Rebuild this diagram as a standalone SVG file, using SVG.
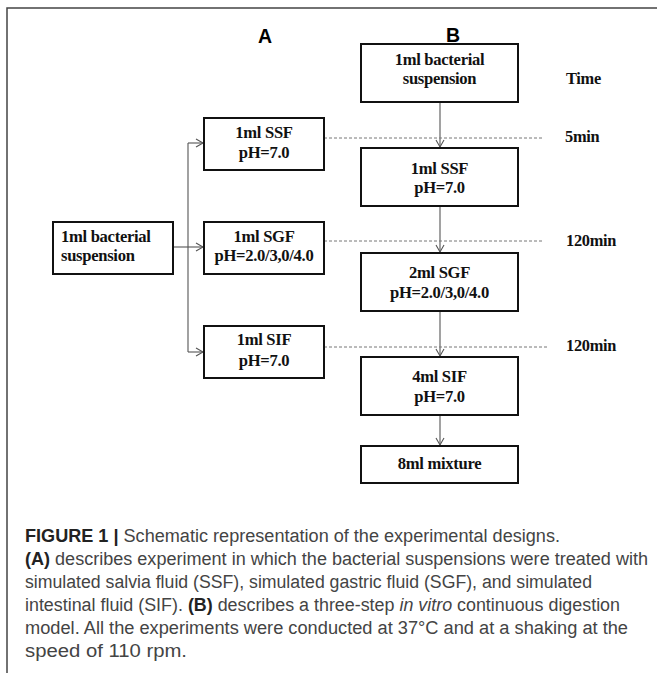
<svg xmlns="http://www.w3.org/2000/svg" width="657" height="681" viewBox="0 0 657 681">
<defs>
<style>
.box{fill:#fff;stroke:#111;stroke-width:2}
.bt{font-family:"Liberation Serif","Times New Roman",serif;font-weight:bold;font-size:16.6px;fill:#111;text-anchor:middle;letter-spacing:-0.3px}
.lbl{font-family:"Liberation Sans",Arial,sans-serif;font-weight:bold;font-size:19.5px;fill:#000;text-anchor:middle}
.tm{font-family:"Liberation Serif","Times New Roman",serif;font-weight:bold;font-size:16.4px;fill:#111;letter-spacing:-0.3px}
.con{fill:none;stroke:#555;stroke-width:1.1}
.dash{fill:none;stroke:#777;stroke-width:1;stroke-dasharray:3 2}
.cap{font-family:"Liberation Sans",Arial,sans-serif;font-size:18px;fill:#444}
.cb{font-weight:bold;fill:#222}
</style>
<marker id="ah" markerWidth="10" markerHeight="10" refX="8" refY="5" orient="auto" markerUnits="userSpaceOnUse">
<path d="M1,1 L8,5 L1,9" fill="none" stroke="#555" stroke-width="1.1"/>
</marker>
</defs>
<rect width="657" height="681" fill="#fff"/>
<path d="M7,673 V8 H657" fill="none" stroke="#444" stroke-width="1.5"/>

<text class="lbl" x="265" y="43">A</text>
<text class="lbl" x="453" y="42">B</text>

<g id="connectors">
<path class="con" d="M173,247 H188"/>
<path class="con" d="M188,143 V352"/>
<path class="con" d="M188,143 H203" marker-end="url(#ah)"/>
<path class="con" d="M188,247 H203" marker-end="url(#ah)"/>
<path class="con" d="M188,352 H203" marker-end="url(#ah)"/>
<path class="con" d="M440,102 V147" marker-end="url(#ah)"/>
<path class="con" d="M440,206 V252" marker-end="url(#ah)"/>
<path class="con" d="M440,311 V356" marker-end="url(#ah)"/>
<path class="con" d="M440,415 V445" marker-end="url(#ah)"/>
<path class="dash" d="M324,138 H542"/>
<path class="dash" d="M324,241 H542"/>
<path class="dash" d="M324,347 H547"/>
</g>

<g id="a-start">
<rect class="box" x="53" y="222" width="120" height="52"/>
<text class="bt" x="61" y="242" style="text-anchor:start">1ml bacterial</text>
<text class="bt" x="61" y="261" style="text-anchor:start">suspension</text>
</g>
<g id="a-ssf">
<rect class="box" x="204" y="118" width="120" height="52"/>
<text class="bt" x="264" y="138">1ml SSF</text>
<text class="bt" x="264" y="158">pH=7.0</text>
</g>
<g id="a-sgf">
<rect class="box" x="204" y="222" width="120" height="52"/>
<text class="bt" x="264" y="242">1ml SGF</text>
<text class="bt" x="264" y="261">pH=2.0/3,0/4.0</text>
</g>
<g id="a-sif">
<rect class="box" x="204" y="326" width="120" height="52"/>
<text class="bt" x="264" y="345">1ml SIF</text>
<text class="bt" x="264" y="366">pH=7.0</text>
</g>

<g id="b-start">
<rect class="box" x="361" y="44" width="157" height="58"/>
<text class="bt" x="439.5" y="65">1ml bacterial</text>
<text class="bt" x="439.5" y="84">suspension</text>
</g>
<g id="b-ssf">
<rect class="box" x="361" y="148" width="157" height="58"/>
<text class="bt" x="439.5" y="174">1ml SSF</text>
<text class="bt" x="439.5" y="193">pH=7.0</text>
</g>
<g id="b-sgf">
<rect class="box" x="361" y="253" width="157" height="58"/>
<text class="bt" x="439.5" y="278">2ml SGF</text>
<text class="bt" x="439.5" y="298">pH=2.0/3,0/4.0</text>
</g>
<g id="b-sif">
<rect class="box" x="361" y="357" width="157" height="58"/>
<text class="bt" x="439.5" y="382">4ml SIF</text>
<text class="bt" x="439.5" y="402">pH=7.0</text>
</g>
<g id="b-mix">
<rect class="box" x="361" y="446" width="157" height="37"/>
<text class="bt" x="439.5" y="469">8ml mixture</text>
</g>

<g id="time-labels">
<text class="tm" x="566" y="84">Time</text>
<text class="tm" x="565" y="142">5min</text>
<text class="tm" x="566" y="246">120min</text>
<text class="tm" x="566" y="351">120min</text>
</g>

<g id="caption">
<text class="cap" x="25" y="542" textLength="535" lengthAdjust="spacingAndGlyphs"><tspan class="cb">FIGURE 1 |</tspan> Schematic representation of the experimental designs.</text>
<text class="cap" x="25" y="565" textLength="623" lengthAdjust="spacingAndGlyphs"><tspan class="cb">(A)</tspan> describes experiment in which the bacterial suspensions were treated with</text>
<text class="cap" x="25" y="588" textLength="567" lengthAdjust="spacingAndGlyphs">simulated salvia fluid (SSF), simulated gastric fluid (SGF), and simulated</text>
<text class="cap" x="25" y="611" textLength="595" lengthAdjust="spacingAndGlyphs">intestinal fluid (SIF). <tspan class="cb">(B)</tspan> describes a three-step <tspan font-style="italic">in vitro</tspan> continuous digestion</text>
<text class="cap" x="25" y="634" textLength="603" lengthAdjust="spacingAndGlyphs">model. All the experiments were conducted at 37°C and at a shaking at the</text>
<text class="cap" x="25" y="657" textLength="162" lengthAdjust="spacingAndGlyphs">speed of 110 rpm.</text>
</g>
</svg>
